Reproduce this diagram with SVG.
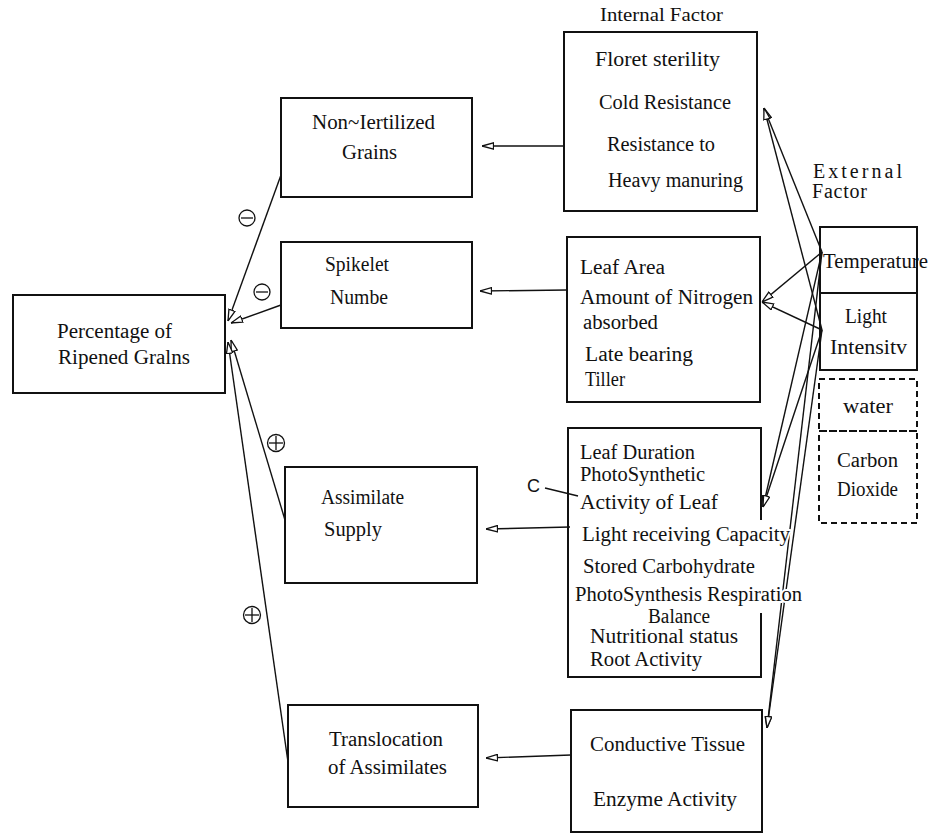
<svg xmlns="http://www.w3.org/2000/svg" width="931" height="834" viewBox="0 0 931 834">
<defs>
<style>
.box{fill:none;stroke:#111;stroke-width:2}
.dash{fill:none;stroke:#111;stroke-width:2;stroke-dasharray:6,4}
.ln{fill:none;stroke:#111;stroke-width:1.4}
text{font-family:"Liberation Serif","Times New Roman",serif;font-size:20px;fill:#111}
.lbl{font-size:18px}
.halo{stroke:#fff;stroke-width:4;paint-order:stroke;stroke-linejoin:round}
.sign{fill:none;stroke:#111;stroke-width:1.3}
</style>
<marker id="ah" viewBox="0 0 12 8" refX="12" refY="4" markerWidth="12" markerHeight="8" markerUnits="userSpaceOnUse" orient="auto">
<path d="M0.5,0.8 L12,4 L0.5,7.2 z" fill="#fff" stroke="#111" stroke-width="1.3"/>
</marker>
</defs>
<rect width="931" height="834" fill="#fff"/>

<g id="connectors">
<line class="ln" x1="564" y1="146" x2="482" y2="146" marker-end="url(#ah)"/>
<line class="ln" x1="567" y1="290" x2="480" y2="291" marker-end="url(#ah)"/>
<line class="ln" x1="570" y1="527" x2="486" y2="529" marker-end="url(#ah)"/>
<line class="ln" x1="571" y1="755" x2="486" y2="758" marker-end="url(#ah)"/>
<line class="ln" x1="281" y1="175" x2="228" y2="321" marker-end="url(#ah)"/>
<line class="ln" x1="281" y1="305" x2="231" y2="323" marker-end="url(#ah)"/>
<line class="ln" x1="285" y1="520" x2="231" y2="340" marker-end="url(#ah)"/>
<line class="ln" x1="288" y1="762" x2="228" y2="342" marker-end="url(#ah)"/>
<line class="ln" x1="822" y1="252" x2="764" y2="108" marker-end="url(#ah)"/>
<line class="ln" x1="822" y1="330" x2="764" y2="108" marker-end="url(#ah)"/>
<line class="ln" x1="822" y1="252" x2="762" y2="302" marker-end="url(#ah)"/>
<line class="ln" x1="822" y1="330" x2="762" y2="302" marker-end="url(#ah)"/>
<line class="ln" x1="822" y1="252" x2="763" y2="507" marker-end="url(#ah)"/>
<line class="ln" x1="822" y1="330" x2="763" y2="507" marker-end="url(#ah)"/>
<line class="ln" x1="822" y1="252" x2="767" y2="728" marker-end="url(#ah)"/>
<line class="ln" x1="822" y1="330" x2="767" y2="728" marker-end="url(#ah)"/>
<line class="ln" x1="545" y1="488" x2="578" y2="496"/>
</g>

<g id="signs">
<circle class="sign" cx="247" cy="218" r="8"/><line class="sign" x1="241" y1="218" x2="253" y2="218"/>
<circle class="sign" cx="262" cy="292" r="8"/><line class="sign" x1="256" y1="292" x2="268" y2="292"/>
<circle class="sign" cx="276" cy="443" r="8.5"/><line class="sign" x1="269" y1="443" x2="283" y2="443"/><line class="sign" x1="276" y1="436" x2="276" y2="450"/>
<circle class="sign" cx="252" cy="615" r="8.5"/><line class="sign" x1="245" y1="615" x2="259" y2="615"/><line class="sign" x1="252" y1="608" x2="252" y2="622"/>
</g>

<g id="main">
<rect class="box" x="13" y="295" width="212" height="98"/>
<text x="57" y="338" textLength="115" lengthAdjust="spacingAndGlyphs">Percentage of</text>
<text x="58" y="364" textLength="132" lengthAdjust="spacingAndGlyphs">Ripened Gralns</text>
</g>

<g id="nonfert">
<rect class="box" x="281" y="98" width="191" height="99"/>
<text x="312" y="129" textLength="123" lengthAdjust="spacingAndGlyphs">Non~Iertilized</text>
<text x="342" y="159" textLength="55" lengthAdjust="spacingAndGlyphs">Grains</text>
</g>

<g id="spikelet">
<rect class="box" x="281" y="242" width="191" height="86"/>
<text x="325" y="271" textLength="64" lengthAdjust="spacingAndGlyphs">Spikelet</text>
<text x="330" y="304" textLength="58" lengthAdjust="spacingAndGlyphs">Numbe</text>
</g>

<g id="assimilate">
<rect class="box" x="285" y="467" width="192" height="116"/>
<text x="321" y="504" textLength="83" lengthAdjust="spacingAndGlyphs">Assimilate</text>
<text x="324" y="536" textLength="58" lengthAdjust="spacingAndGlyphs">Supply</text>
</g>

<g id="translocation">
<rect class="box" x="288" y="705" width="190" height="102"/>
<text x="329" y="746" textLength="114" lengthAdjust="spacingAndGlyphs">Translocation</text>
<text x="328" y="774" textLength="119" lengthAdjust="spacingAndGlyphs">of Assimilates</text>
</g>

<g id="internal1">
<text x="600" y="21" textLength="123" lengthAdjust="spacingAndGlyphs" style="font-size:19px">Internal Factor</text>
<rect class="box" x="564" y="32" width="193" height="179"/>
<text x="595" y="66" textLength="125" lengthAdjust="spacingAndGlyphs">Floret sterility</text>
<text x="599" y="109" textLength="132" lengthAdjust="spacingAndGlyphs">Cold Resistance</text>
<text x="607" y="151" textLength="108" lengthAdjust="spacingAndGlyphs">Resistance to</text>
<text x="608" y="187" textLength="135" lengthAdjust="spacingAndGlyphs">Heavy manuring</text>
</g>

<g id="internal2">
<rect class="box" x="567" y="237" width="193" height="165"/>
<text x="580" y="274" textLength="85" lengthAdjust="spacingAndGlyphs">Leaf Area</text>
<text x="580" y="304" textLength="173" lengthAdjust="spacingAndGlyphs">Amount of Nitrogen</text>
<text x="583" y="329" textLength="75" lengthAdjust="spacingAndGlyphs">absorbed</text>
<text x="585" y="361" textLength="108" lengthAdjust="spacingAndGlyphs">Late bearing</text>
<text x="585" y="386" textLength="40" lengthAdjust="spacingAndGlyphs">Tiller</text>
</g>

<g id="internal3">
<path class="box" d="M761,520 V428 H568 V677 H761 V613"/>
<text x="580" y="459" textLength="115" lengthAdjust="spacingAndGlyphs">Leaf Duration</text>
<text x="580" y="481" textLength="125" lengthAdjust="spacingAndGlyphs">PhotoSynthetic</text>
<text x="580" y="509" textLength="138" lengthAdjust="spacingAndGlyphs">Activity of Leaf</text>
<text class="halo" x="582" y="541" textLength="208" lengthAdjust="spacingAndGlyphs">Light receiving Capacity</text>
<text class="halo" x="583" y="573" textLength="172" lengthAdjust="spacingAndGlyphs">Stored Carbohydrate</text>
<text class="halo" x="575" y="601" textLength="227" lengthAdjust="spacingAndGlyphs">PhotoSynthesis Respiration</text>
<text x="648" y="623" textLength="62" lengthAdjust="spacingAndGlyphs">Balance</text>
<text x="590" y="643" textLength="148" lengthAdjust="spacingAndGlyphs">Nutritional status</text>
<text x="590" y="666" textLength="112" lengthAdjust="spacingAndGlyphs">Root Activity</text>
<text x="527" y="492" style="font-family:'Liberation Sans',Arial,sans-serif;font-size:18px">C</text>
</g>

<g id="internal4">
<rect class="box" x="571" y="710" width="191" height="122"/>
<text x="590" y="751" textLength="155" lengthAdjust="spacingAndGlyphs">Conductive Tissue</text>
<text x="593" y="806" textLength="144" lengthAdjust="spacingAndGlyphs">Enzyme Activity</text>
</g>

<g id="external">
<text x="813" y="178" textLength="89" lengthAdjust="spacing">External</text>
<text x="812" y="198" textLength="55" lengthAdjust="spacing">Factor</text>
</g>

<g id="temperature">
<rect class="box" x="820" y="227" width="97" height="66"/>
<text x="823" y="268" textLength="105" lengthAdjust="spacingAndGlyphs">Temperature</text>
</g>

<g id="light">
<rect class="box" x="820" y="293" width="97" height="77"/>
<text x="845" y="323" textLength="42" lengthAdjust="spacingAndGlyphs">Light</text>
<text x="830" y="354" textLength="77" lengthAdjust="spacingAndGlyphs">Intensitv</text>
</g>

<g id="water">
<rect class="dash" x="819" y="379" width="98" height="52"/>
<text x="843" y="413" textLength="50" lengthAdjust="spacingAndGlyphs">water</text>
</g>

<g id="co2">
<path class="dash" d="M819,431 H917 V523 H819 Z"/>
<text x="837" y="467" textLength="61" lengthAdjust="spacingAndGlyphs">Carbon</text>
<text x="837" y="496" textLength="61" lengthAdjust="spacingAndGlyphs">Dioxide</text>
</g>
</svg>
